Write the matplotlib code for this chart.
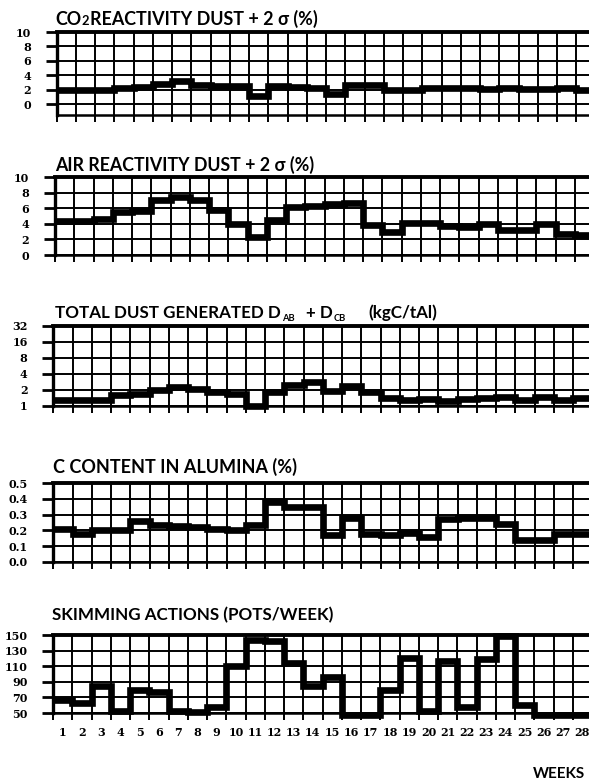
import numpy as np
import matplotlib
matplotlib.use("Agg")
import matplotlib.pyplot as plt
from matplotlib.ticker import NullLocator, FixedLocator

# ---- data: weekly values, weeks 1..28 ----
weeks = np.arange(1, 29)
week_labels = [str(w) for w in weeks]

co2_reactivity = [2.0, 2.0, 2.0, 2.2, 2.4, 2.8, 3.2, 2.6, 2.5, 2.5, 1.2, 2.5, 2.4, 2.2,
                  1.4, 2.7, 2.6, 2.0, 2.0, 2.3, 2.3, 2.3, 2.1, 2.3, 2.1, 2.1, 2.2, 2.0]
air_reactivity = [4.4, 4.4, 4.6, 5.5, 5.6, 7.0, 7.5, 7.0, 5.8, 4.0, 2.25, 4.5, 6.2, 6.25,
                  6.5, 6.7, 3.8, 3.0, 4.1, 4.1, 3.7, 3.6, 4.0, 3.2, 3.2, 4.0, 2.7, 2.6]
total_dust = [1.3, 1.3, 1.3, 1.6, 1.7, 2.0, 2.3, 2.1, 1.8, 1.65, 1.0, 1.8, 2.5, 2.8,
              1.9, 2.4, 1.8, 1.4, 1.3, 1.35, 1.25, 1.35, 1.4, 1.45, 1.3, 1.45, 1.3, 1.4]
c_content = [0.21, 0.175, 0.2, 0.2, 0.26, 0.235, 0.225, 0.22, 0.21, 0.2, 0.235, 0.38, 0.35, 0.35,
             0.17, 0.28, 0.18, 0.17, 0.185, 0.16, 0.27, 0.28, 0.28, 0.24, 0.14, 0.14, 0.18, 0.18]
skimming = [67, 63, 85, 52, 80, 77, 53, 51, 58, 110, 144, 142, 114, 84,
            96, 48, 48, 80, 121, 53, 117, 58, 119, 149, 60, 47, 47, 47]

co2_ticks = [0, 2, 4, 6, 8, 10]
air_ticks = [0, 2, 4, 6, 8, 10]
dust_ticks = [1, 2, 4, 8, 16, 32]
c_ticks = [0.0, 0.1, 0.2, 0.3, 0.4, 0.5]
skim_ticks = [50, 70, 90, 110, 130, 150]

co2_tick_labels = ["0", "2", "4", "6", "8", "10"]
air_tick_labels = ["0", "2", "4", "6", "8", "10"]
dust_tick_labels = ["1", "2", "4", "8", "16", "32"]
c_tick_labels = ["0.0", "0.1", "0.2", "0.3", "0.4", "0.5"]
skim_tick_labels = ["50", "70", "90", "110", "130", "150"]

# ---- layout (pixel units of a 589 x 783 canvas) ----
FIG_W, FIG_H = 589, 783
CELL = 19.25
TITLE_FONT = ['Lato', 'DejaVu Sans']
NUM_FONT = 'DejaVu Serif'
NUM_SIZE = 8

fig = plt.figure(figsize=(FIG_W / 100, FIG_H / 100), dpi=100)
fig.patch.set_facecolor('white')
renderer = fig.canvas.get_renderer()


def px_axes(left, top, bottom):
    return fig.add_axes([left / FIG_W, 1 - bottom / FIG_H,
                         28 * CELL / FIG_W, (bottom - top) / FIG_H])


def style_axes(ax, ylim, yticks, ylabels, log2=False):
    if log2:
        ax.set_yscale('log', base=2)
    ax.set_xlim(0, 28)
    ax.set_ylim(*ylim)
    ax.xaxis.set_major_locator(FixedLocator(np.arange(29)))
    ax.xaxis.set_minor_locator(NullLocator())
    ax.set_xticklabels([])
    ax.yaxis.set_major_locator(FixedLocator(yticks))
    ax.yaxis.set_minor_locator(NullLocator())
    ax.set_yticklabels(ylabels)
    for lab in ax.get_yticklabels():
        lab.set_fontfamily(NUM_FONT)
        lab.set_fontweight('bold')
        lab.set_fontsize(NUM_SIZE)
    ax.grid(True, which='major', color='black', linewidth=1.4)
    ax.set_axisbelow(True)
    ax.tick_params(axis='x', which='major', direction='out', length=5,
                   width=1.4, color='black')
    ax.tick_params(axis='y', which='major', direction='out', length=8,
                   width=2.0, color='black', pad=10.5)
    ax.spines['right'].set_visible(False)
    ax.spines['left'].set_linewidth(2.4)
    ax.spines['top'].set_linewidth(2.8)
    ax.spines['bottom'].set_linewidth(1.8)
    ax.set_facecolor('white')


def draw_series(ax, values):
    ax.stairs(values, edges=np.arange(len(values) + 1), baseline=None,
              color='black', linewidth=4.8, zorder=3, clip_on=False)


def _place(x, y, pieces, size):
    texts = []
    cur = x
    for txt, scale, dy, gap in pieces:
        t = fig.text(cur / FIG_W, 1 - (y + dy) / FIG_H, txt,
                     fontsize=size * scale, fontweight='bold',
                     family=TITLE_FONT, va='baseline', ha='left', color='black')
        texts.append(t)
        cur += t.get_window_extent(renderer).width + gap
    return texts, cur


def draw_title(x, y, x_end, pieces, base=12.0):
    """Lay out a title made of several runs so that it spans x..x_end."""
    texts, end = _place(x, y, pieces, base)
    fixed_gaps = sum(p[3] for p in pieces)
    for t in texts:
        t.remove()
    size = base * (x_end - x - fixed_gaps) / (end - x - fixed_gaps)
    _place(x, y, pieces, size)


# panel 1: CO2 reactivity
ax1 = px_axes(56.7, 32, 115)
style_axes(ax1, (-1.5, 10), co2_ticks, co2_tick_labels)
draw_series(ax1, co2_reactivity)
draw_title(55, 25, 317, [("CO", 1, 0, 0.5), ("2", 0.72, 0, 0.5),
                         ("REACTIVITY DUST + 2 σ (%)", 1, 0, 0)])

# panel 2: air reactivity
ax2 = px_axes(55, 177, 255)
style_axes(ax2, (0, 10), air_ticks, air_tick_labels)
draw_series(ax2, air_reactivity)
draw_title(55, 171, 313, [("AIR REACTIVITY DUST + 2 σ (%)", 1, 0, 0)])

# panel 3: total dust (log2 scale)
ax3 = px_axes(53.3, 326, 406)
style_axes(ax3, (1, 32), dust_ticks, dust_tick_labels, log2=True)
draw_series(ax3, total_dust)
draw_title(55, 318, 437, [("TOTAL DUST GENERATED D", 1, 0, 1), ("AB", 0.55, 3, 12),
                          ("+ D", 1, 0, 1), ("CB", 0.55, 3, 22),
                          ("(kgC/tAl)", 1, 0, 0)])

# panel 4: carbon content in alumina
ax4 = px_axes(53.3, 483, 562)
style_axes(ax4, (0, 0.5), c_ticks, c_tick_labels)
draw_series(ax4, c_content)
draw_title(53, 473, 296, [("C CONTENT IN ALUMINA (%)", 1, 0, 0)])

# panel 5: skimming actions, carries the week axis
ax5 = px_axes(53, 635, 713)
style_axes(ax5, (50, 150), skim_ticks, skim_tick_labels)
draw_series(ax5, skimming)
draw_title(52, 620, 333, [("SKIMMING ACTIONS (POTS/WEEK)", 1, 0, 0)])
ax5.set_xticks(weeks - 0.5, minor=True)
ax5.set_xticklabels(week_labels, minor=True)
ax5.tick_params(axis='x', which='minor', length=0, pad=10)
for lab in ax5.get_xticklabels(minor=True):
    lab.set_fontfamily(NUM_FONT)
    lab.set_fontweight('bold')
    lab.set_fontsize(NUM_SIZE)

fig.text(585 / FIG_W, 1 - 778 / FIG_H, "WEEKS", fontsize=11, fontweight='bold',
         family=TITLE_FONT, ha='right', va='baseline')

fig.savefig("out.png", dpi=100, facecolor='white')
